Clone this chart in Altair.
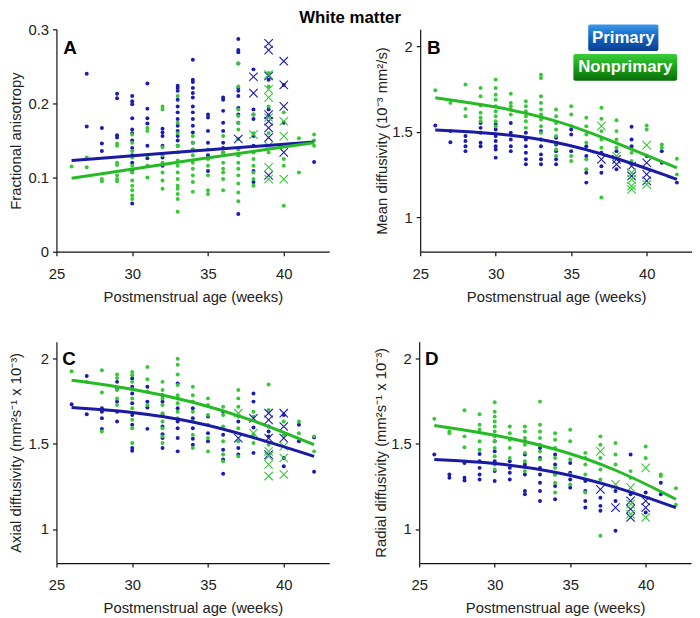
import altair as alt
import pandas as pd

FONT = "Liberation Sans"
BLUE = "#1c1cb4"
BLUE_LINE = "#1a1aa6"
GREEN = "#36c936"
GREEN_LINE = "#26bb26"
WEEK_TICKS = [25, 30, 35, 40]

# ---------------- Panel A: fractional anisotropy ----------------
A_prim_dots = {27: [0.240, 0.169], 28: [0.167, 0.146, 0.136], 29: [0.213, 0.207, 0.157, 0.154],
               30: [0.210, 0.203, 0.199, 0.180, 0.165, 0.160, 0.150, 0.140, 0.130, 0.120, 0.109, 0.065],
               31: [0.227, 0.193, 0.180, 0.173, 0.143, 0.126], 32: [0.166, 0.161, 0.156, 0.143, 0.127, 0.116],
               33: [0.224, 0.221, 0.217, 0.205, 0.196, 0.188, 0.179, 0.170, 0.163, 0.156, 0.150, 0.143],
               34: [0.259, 0.232, 0.229, 0.221, 0.214, 0.208, 0.196, 0.188, 0.179, 0.170, 0.161, 0.147, 0.138],
               35: [0.185, 0.181, 0.163, 0.147, 0.130, 0.109], 36: [0.208, 0.205, 0.190, 0.174, 0.163, 0.147, 0.140, 0.134],
               37: [0.287, 0.272, 0.269, 0.254, 0.221, 0.217, 0.210, 0.194, 0.185, 0.174, 0.130, 0.051],
               38: [0.246, 0.192, 0.185, 0.179, 0.156, 0.143, 0.109, 0.094], 39: [0.232, 0.192, 0.183],
               40: [0.174, 0.225], 42: [0.121]}
A_nonp_dots = {26: [0.115], 27: [0.127, 0.114], 28: [0.098, 0.095], 29: [0.146, 0.143, 0.120, 0.117, 0.103, 0.098, 0.095],
               30: [0.158, 0.147, 0.136, 0.127, 0.116, 0.107, 0.096, 0.089, 0.083, 0.076, 0.071],
               31: [0.167, 0.163, 0.130, 0.116, 0.100], 32: [0.196, 0.192, 0.141, 0.130, 0.120, 0.107, 0.096, 0.085],
               33: [0.210, 0.174, 0.160, 0.143, 0.134, 0.123, 0.116, 0.107, 0.098, 0.089, 0.085, 0.078, 0.071, 0.054],
               34: [0.156, 0.147, 0.138, 0.130, 0.120, 0.112, 0.103, 0.094, 0.081],
               35: [0.138, 0.125, 0.116, 0.103, 0.083, 0.078], 36: [0.156, 0.134, 0.120, 0.112, 0.107, 0.098, 0.083],
               37: [0.254, 0.223, 0.192, 0.183, 0.174, 0.165, 0.152, 0.138, 0.130, 0.120, 0.112, 0.103, 0.092, 0.080, 0.068],
               38: [0.185, 0.160, 0.134, 0.125, 0.116, 0.107, 0.098, 0.089], 39: [0.241, 0.223, 0.196, 0.160, 0.134],
               40: [0.188, 0.143, 0.125, 0.116, 0.062], 41: [0.153, 0.107], 42: [0.158, 0.150, 0.143]}
A_prim_x = {37: [0.152], 38: [0.236, 0.214], 39: [0.281, 0.272, 0.237, 0.185, 0.176, 0.167, 0.154, 0.103],
            40: [0.257, 0.225, 0.196, 0.134]}
A_nonp_x = {38: [0.158], 39: [0.239, 0.219, 0.208, 0.181, 0.143, 0.114, 0.098], 40: [0.176, 0.156, 0.098]}
A_fit_p = [(26, 0.123), (34, 0.136), (42, 0.148)]
A_fit_n = [(26, 0.099), (34, 0.124), (42, 0.147)]

# ---------------- Panel B: mean diffusivity ----------------
B_prim_dots = {26: [1.538], 27: [1.505, 1.44], 28: [1.476, 1.447, 1.417, 1.388], 29: [1.553, 1.524, 1.495, 1.437, 1.417],
               30: [1.544, 1.515, 1.476, 1.447, 1.417, 1.398, 1.35], 31: [1.553, 1.495, 1.456, 1.417, 1.388],
               32: [1.495, 1.456, 1.417, 1.379, 1.34, 1.311], 33: [1.505, 1.456, 1.417, 1.369, 1.34, 1.311],
               34: [1.466, 1.427, 1.388, 1.34, 1.311], 35: [1.515, 1.485, 1.388], 36: [1.417, 1.359, 1.262, 1.204],
               37: [1.379, 1.30, 1.262], 38: [1.388, 1.282], 39: [1.53, 1.456, 1.417], 40: [1.359],
               41: [1.388, 1.32], 42: [1.204]}
B_nonp_dots = {26: [1.744], 27: [1.67], 28: [1.777, 1.635, 1.592], 29: [1.757, 1.709, 1.654, 1.612, 1.583, 1.563],
               30: [1.806, 1.757, 1.718, 1.689, 1.65, 1.621, 1.592, 1.563, 1.534], 31: [1.724, 1.67, 1.65, 1.631, 1.602],
               32: [1.68, 1.65, 1.621, 1.592, 1.563, 1.524],
               33: [1.835, 1.816, 1.709, 1.67, 1.631, 1.602, 1.573, 1.534, 1.495, 1.456],
               34: [1.631, 1.592, 1.553, 1.515, 1.476, 1.437, 1.398, 1.359], 35: [1.65, 1.602, 1.534, 1.359, 1.33],
               36: [1.583, 1.534, 1.485, 1.437, 1.34, 1.282], 37: [1.641, 1.577, 1.505, 1.456, 1.408, 1.117],
               38: [1.569, 1.505, 1.456, 1.408], 39: [1.379, 1.33], 40: [1.538, 1.515], 41: [1.427, 1.408],
               42: [1.344, 1.252]}
B_prim_x = {37: [1.34], 38: [1.34, 1.311], 39: [1.30, 1.243], 40: [1.32, 1.252, 1.214]}
B_nonp_x = {37: [1.534], 38: [1.359], 39: [1.262, 1.223, 1.184, 1.165], 40: [1.423, 1.194]}
B_fit_p = [(26, 1.512), (30, 1.495), (34, 1.447), (38, 1.35), (42, 1.223)]
B_fit_n = [(26, 1.70), (30, 1.65), (34, 1.573), (38, 1.437), (42, 1.29)]

# ---------------- Panel C: axial diffusivity ----------------
C_prim_dots = {26: [1.732], 27: [1.899, 1.674], 28: [1.709, 1.689, 1.65, 1.588], 29: [1.864, 1.821, 1.748, 1.689, 1.631],
               30: [1.884, 1.835, 1.796, 1.738, 1.67, 1.612, 1.476, 1.46], 31: [1.835, 1.748, 1.713, 1.588],
               32: [1.786, 1.748, 1.67, 1.602, 1.557, 1.534, 1.476], 33: [1.854, 1.767, 1.709, 1.631, 1.592, 1.534, 1.456],
               34: [1.709, 1.65, 1.592, 1.53, 1.495], 35: [1.66, 1.563, 1.515], 36: [1.689, 1.553, 1.466, 1.408, 1.324],
               37: [1.631, 1.476, 1.437], 38: [1.796, 1.748, 1.596, 1.447], 39: [1.602, 1.573, 1.544],
               40: [1.67, 1.417, 1.369], 41: [1.612, 1.515], 42: [1.538, 1.336]}
C_nonp_dots = {26: [1.926], 27: [1.864], 28: [1.932, 1.802, 1.573], 29: [1.907, 1.887, 1.816, 1.767, 1.728],
               30: [1.922, 1.903, 1.864, 1.821, 1.767, 1.709, 1.641, 1.592, 1.505], 31: [1.951, 1.88, 1.806, 1.728],
               32: [1.864, 1.816, 1.767, 1.728, 1.68, 1.631, 1.592, 1.544, 1.505],
               33: [2.0, 1.965, 1.907, 1.845, 1.786, 1.738, 1.689, 1.65], 34: [1.835, 1.786, 1.748, 1.689, 1.631, 1.553, 1.476],
               35: [1.767, 1.728, 1.67, 1.612, 1.534, 1.456], 36: [1.718, 1.67, 1.602, 1.515, 1.437, 1.398],
               37: [1.816, 1.767, 1.718, 1.66, 1.592, 1.515, 1.427], 38: [1.689, 1.66, 1.553, 1.505],
               39: [1.849, 1.699, 1.495], 40: [1.631, 1.553], 41: [1.631, 1.563], 42: [1.544, 1.456]}
C_prim_x = {37: [1.534], 38: [1.65], 39: [1.68, 1.641, 1.534, 1.437], 40: [1.68, 1.602, 1.534]}
C_nonp_x = {37: [1.68], 38: [1.563], 39: [1.456, 1.427, 1.379, 1.311], 40: [1.485, 1.417, 1.32]}
C_fit_p = [(26, 1.713), (30, 1.690), (34, 1.635), (38, 1.54), (42, 1.427)]
C_fit_n = [(26, 1.874), (30, 1.825), (34, 1.75), (38, 1.641), (42, 1.495)]

# ---------------- Panel D: radial diffusivity ----------------
D_prim_dots = {26: [1.437], 27: [1.32, 1.301], 28: [1.388, 1.301, 1.285], 29: [1.441, 1.398, 1.359, 1.32, 1.291],
               30: [1.515, 1.456, 1.398, 1.34, 1.282], 31: [1.398, 1.359, 1.33, 1.291],
               32: [1.515, 1.437, 1.379, 1.32, 1.223, 1.204], 33: [1.476, 1.417, 1.359, 1.32, 1.272, 1.223, 1.165],
               34: [1.437, 1.379, 1.32, 1.252, 1.175], 35: [1.388, 1.33, 1.291, 1.243], 36: [1.282, 1.223, 1.165, 1.126],
               37: [1.184, 1.136, 1.107], 38: [1.223, 1.165, 0.99], 39: [1.437, 1.204], 40: [1.214, 1.097],
               41: [1.272, 1.204]}
D_nonp_dots = {26: [1.647], 27: [1.573, 1.563], 28: [1.697, 1.544, 1.48], 29: [1.674, 1.612, 1.583, 1.515, 1.466],
               30: [1.744, 1.689, 1.66, 1.631, 1.602, 1.573, 1.544, 1.515, 1.476, 1.427, 1.379, 1.35],
               31: [1.602, 1.563, 1.524, 1.476, 1.417], 32: [1.602, 1.573, 1.534, 1.495, 1.447, 1.398, 1.34],
               33: [1.748, 1.612, 1.573, 1.534, 1.495, 1.456, 1.408],
               34: [1.563, 1.524, 1.476, 1.417, 1.359, 1.32, 1.272, 1.214], 35: [1.583, 1.515, 1.408, 1.32, 1.262],
               36: [1.447, 1.417, 1.379, 1.32, 1.214], 37: [1.544, 1.495, 1.417, 1.35, 1.291, 0.961],
               38: [1.505, 1.437, 1.379], 39: [1.34, 1.301], 40: [1.485, 1.417], 41: [1.32, 1.311], 42: [1.239, 1.142]}
D_prim_x = {37: [1.233], 38: [1.126], 39: [1.165, 1.117, 1.068], 40: [1.165, 1.126]}
D_nonp_x = {37: [1.456], 38: [1.262], 39: [1.243, 1.146, 1.087], 40: [1.359, 1.068]}
D_fit_p = [(26, 1.408), (30, 1.39), (34, 1.34), (38, 1.25), (42, 1.126)]
D_fit_n = [(26, 1.608), (30, 1.555), (34, 1.475), (38, 1.355), (42, 1.175)]

X_PATH = "M-1,-1L1,1M-1,1L1,-1"


def to_df(groups):
    rows = [{"week": w, "val": v} for w, vals in groups.items() for v in vals]
    return pd.DataFrame(rows)


def fit_df(pairs):
    return pd.DataFrame(pairs, columns=["week", "val"])


def panel(prim_dots, nonp_dots, prim_x, nonp_x, fit_p, fit_n, ydom, yticks, ytitle, letter,
          letter_x, letter_y, legend=False, w=276, h=225, title_pad=4):
    def enc(ch):
        return ch.encode(
            x=alt.X("week:Q", scale=alt.Scale(domain=[25, 43], nice=False),
                    axis=alt.Axis(values=WEEK_TICKS, title="Postmenstrual age (weeks)")),
            y=alt.Y("val:Q", scale=alt.Scale(domain=ydom, nice=False, zero=False),
                    axis=alt.Axis(values=yticks, title=ytitle, format="~g", titlePadding=title_pad)),
        )

    layers = [
        enc(alt.Chart(to_df(prim_dots)).mark_circle(size=16, color=BLUE, opacity=1)),
        enc(alt.Chart(to_df(nonp_dots)).mark_circle(size=16, color=GREEN, opacity=1)),
        enc(alt.Chart(to_df(prim_x)).mark_point(shape=X_PATH, size=72, color=BLUE, filled=False,
                                                strokeWidth=1.1, opacity=1)),
        enc(alt.Chart(to_df(nonp_x)).mark_point(shape=X_PATH, size=72, color=GREEN, filled=False,
                                                strokeWidth=1.1, opacity=1)),
        enc(alt.Chart(fit_df(fit_p)).mark_line(color=BLUE_LINE, strokeWidth=3, interpolate="basis")),
        enc(alt.Chart(fit_df(fit_n)).mark_line(color=GREEN_LINE, strokeWidth=3, interpolate="basis")),
        alt.Chart(pd.DataFrame({"t": [letter]})).mark_text(
            font=FONT, fontSize=19, fontWeight="bold", color="black", align="left", baseline="middle"
        ).encode(text="t:N", x=alt.value(letter_x), y=alt.value(letter_y)),
    ]
    if legend:
        blue_grad = alt.LinearGradient(gradient="linear", x1=0, x2=0, y1=0, y2=1,
                                       stops=[alt.GradientStop(color="#3a98ea", offset=0),
                                              alt.GradientStop(color="#1064c4", offset=0.5),
                                              alt.GradientStop(color="#0b3f8f", offset=1)])
        green_grad = alt.LinearGradient(gradient="linear", x1=0, x2=0, y1=0, y2=1,
                                        stops=[alt.GradientStop(color="#3bcc3b", offset=0),
                                               alt.GradientStop(color="#17a317", offset=0.5),
                                               alt.GradientStop(color="#0a6e0a", offset=1)])
        leg = pd.DataFrame({"t": ["Primary"]})
        leg2 = pd.DataFrame({"t": ["Nonprimary"]})
        layers += [
            alt.Chart(leg).mark_rect(color=blue_grad, cornerRadius=2).encode(
                x=alt.value(170), x2=alt.value(241), y=alt.value(-5), y2=alt.value(22)),
            alt.Chart(leg).mark_text(font=FONT, fontSize=17, fontWeight="bold", color="white",
                                     align="center", baseline="middle").encode(
                text="t:N", x=alt.value(205.5), y=alt.value(8.5)),
            alt.Chart(leg2).mark_rect(color=green_grad, cornerRadius=2).encode(
                x=alt.value(155), x2=alt.value(260), y=alt.value(25), y2=alt.value(52)),
            alt.Chart(leg2).mark_text(font=FONT, fontSize=17, fontWeight="bold", color="white",
                                      align="center", baseline="middle").encode(
                text="t:N", x=alt.value(207.5), y=alt.value(38.5)),
        ]
    return alt.layer(*layers).properties(width=w, height=h)


pA = panel(A_prim_dots, A_nonp_dots, A_prim_x, A_nonp_x, A_fit_p, A_fit_n, [0, 0.3], [0, 0.1, 0.2, 0.3],
           "Fractional anisotropy", "A", 7, 19, title_pad=5)
pB = panel(B_prim_dots, B_nonp_dots, B_prim_x, B_nonp_x, B_fit_p, B_fit_n, [0.8, 2.1], [1, 1.5, 2],
           "Mean diffusivity (10⁻³ mm²/s)", "B", 7, 19, legend=True, w=275, title_pad=2)
pC = panel(C_prim_dots, C_nonp_dots, C_prim_x, C_nonp_x, C_fit_p, C_fit_n, [0.8, 2.1], [1, 1.5, 2],
           "Axial diffusivity (mm²s⁻¹ x 10⁻³)", "C", 6, 18, h=224, title_pad=4)
pD = panel(D_prim_dots, D_nonp_dots, D_prim_x, D_nonp_x, D_fit_p, D_fit_n, [0.8, 2.1], [1, 1.5, 2],
           "Radial diffusivity (mm²s⁻¹ x 10⁻³)", "D", 6, 18, w=275, h=224, title_pad=2)

top = alt.hconcat(pA, pB, spacing=46)
bottom = alt.hconcat(pC, pD, spacing=45)

chart = alt.vconcat(top, bottom, spacing=38).properties(
    title=alt.TitleParams("White matter", font=FONT, fontSize=17, fontWeight="bold", color="black",
                          anchor="middle", offset=-5),
    padding={"left": 0, "top": -2, "right": 0, "bottom": 0},
).configure_view(stroke=None).configure_axis(
    grid=False, domainColor="#111", tickColor="#111", domainWidth=1.2, tickWidth=1.2, tickSize=4,
    labelFont=FONT, titleFont=FONT, labelFontSize=15, titleFontSize=15, labelColor="#222",
    titleColor="#222", titleFontWeight="normal", labelFlush=False, labelOverlap=False, labelPadding=4,
).configure_axisX(labelPadding=11, titlePadding=8)

chart.save("out.html", embed_options={"renderer": "svg", "actions": False})
